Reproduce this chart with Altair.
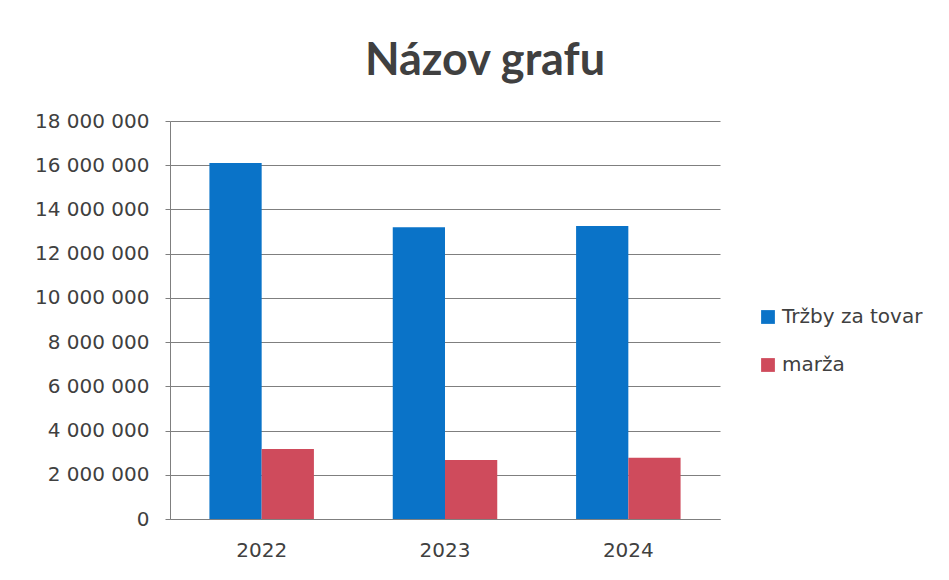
import altair as alt
import pandas as pd

years = ["2022", "2023", "2024"]
series = ["Tržby za tovar", "marža"]
trzby = [16100000, 13200000, 13250000]
marza = [3170000, 2670000, 2770000]
colors = ["#0A73C8", "#CF4B5C"]

rows = []
for i, y in enumerate(years):
    rows.append({"rok": y, "séria": series[0], "hodnota": trzby[i]})
    rows.append({"rok": y, "séria": series[1], "hodnota": marza[i]})
df = pd.DataFrame(rows)

font = "DejaVu Sans"
title_font = "Lato"

chart = alt.Chart(df).mark_bar().encode(
    x=alt.X("rok:N", title=None, sort=years,
            scale=alt.Scale(paddingInner=0.43, paddingOuter=0.215),
            axis=alt.Axis(labelAngle=0, labelFontSize=20, labelColor="#404040",
                          labelFont=font, labelPadding=21, ticks=False, grid=False,
                          domain=True, domainColor="#7f7f7f")),
    xOffset=alt.XOffset("séria:N", sort=series),
    y=alt.Y("hodnota:Q", title=None,
            scale=alt.Scale(domain=[0, 18000000]),
            axis=alt.Axis(values=list(range(0, 18000001, 2000000)),
                          labelExpr="replace(replace(format(datum.value, ','), ',', ' '), ',', ' ')",
                          labelFontSize=20, labelColor="#404040", labelFont=font,
                          labelPadding=16, tickSize=5, tickColor="#7f7f7f",
                          domainColor="#7f7f7f", gridColor="#7f7f7f", gridWidth=1)),
    color=alt.Color("séria:N", sort=series,
                    scale=alt.Scale(domain=series, range=colors),
                    legend=alt.Legend(title=None, orient="none", legendX=588, legendY=186,
                                      symbolType="square", symbolSize=190,
                                      labelFontSize=20, labelColor="#404040",
                                      labelFont=font, rowPadding=28, symbolStrokeWidth=0)),
).properties(
    width=550,
    height=398,
    background="white",
    title=alt.TitleParams("Názov grafu", fontSize=45, font=title_font, fontWeight="bold",
                          color="#404040", anchor="middle", dx=40, offset=27),
    autosize=alt.AutoSizeParams(type="none"),
    padding={"left": 162, "top": 113, "right": 221, "bottom": 53},
).configure_view(stroke=None, strokeWidth=0)

chart.save("out.html", embed_options={"renderer": "svg", "actions": False})
